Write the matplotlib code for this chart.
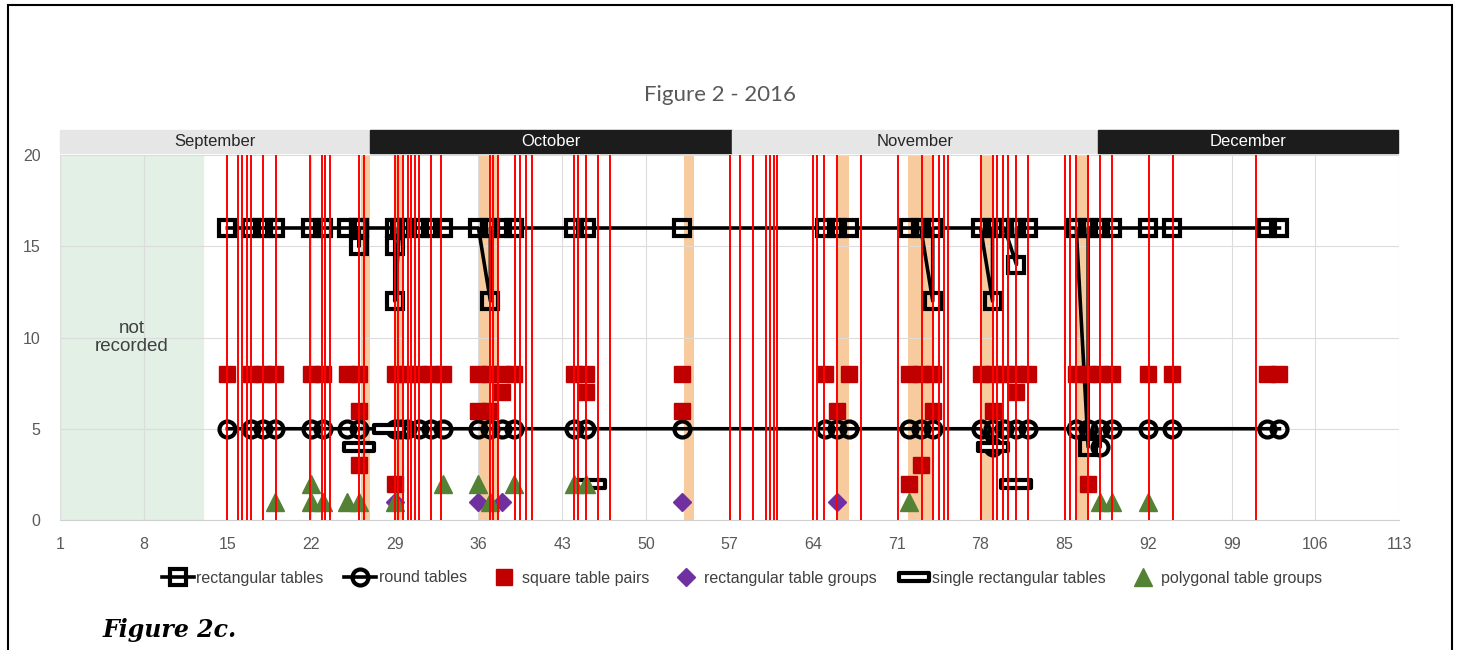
import matplotlib
matplotlib.use("Agg")
import matplotlib.pyplot as plt
from matplotlib.path import Path
from matplotlib.patches import Rectangle
from matplotlib.lines import Line2D

# x = day counted from 1 September, y = number of tables of each kind
rect_x = [15, 17, 18, 19, 22, 23, 25, 26, 26, 26, 29, 29, 29, 29.4, 30, 31, 32, 33,
          36, 37, 37, 38, 39, 44, 45, 53, 65, 66, 67, 72, 73, 74, 74,
          78, 79, 79, 80, 81, 81, 82, 86, 87, 87, 88, 89, 92, 94, 102, 103]
rect_y = [16, 16, 16, 16, 16, 16, 16, 16, 15, 16, 16, 15, 12, 16, 16, 16, 16, 16,
          16, 12, 16, 16, 16, 16, 16, 16, 16, 16, 16, 16, 16, 12, 16,
          16, 12, 16, 16, 14, 16, 16, 16, 4, 16, 16, 16, 16, 16, 16, 16]

round_x = [15, 17, 18, 19, 22, 23, 25, 26, 29, 29.5, 30, 31, 32, 33,
           36, 37, 38, 39, 44, 45, 53, 65, 66, 67, 72, 73, 74,
           78, 79, 79, 80, 81, 82, 86, 87, 88, 88, 89, 92, 94, 102, 103]
round_y = [5, 5, 5, 5, 5, 5, 5, 5, 5, 5, 5, 5, 5, 5,
           5, 5, 5, 5, 5, 5, 5, 5, 5, 5, 5, 5, 5,
           5, 4, 5, 5, 5, 5, 5, 5, 4, 5, 5, 5, 5, 5, 5]

pair_x = [15, 17, 18, 19, 22, 23, 25, 26, 26, 26, 29, 29, 30, 31, 32, 33,
          36, 37, 38, 39, 36, 37, 38, 44, 45, 45, 53, 53, 65, 67, 66,
          72, 73, 74, 72, 73, 74, 78, 79, 80, 81, 82, 79, 81,
          86, 87, 88, 89, 87, 92, 94, 102, 103]
pair_y = [8, 8, 8, 8, 8, 8, 8, 8, 6, 3, 8, 2, 8, 8, 8, 8,
          8, 8, 8, 8, 6, 6, 7, 8, 8, 7, 8, 6, 8, 8, 6,
          8, 8, 8, 2, 3, 6, 8, 8, 8, 8, 8, 6, 7,
          8, 8, 8, 8, 2, 8, 8, 8, 8]

group_x = [29, 36, 38, 53, 66]
group_y = [1, 1, 1, 1, 1]

single_x = [26, 28.5, 45.3, 79, 81]
single_y = [4, 5, 2, 4, 2]

poly_x = [19, 22, 22, 23, 25, 26, 29, 33, 36, 37, 39, 44, 45, 72, 88, 89, 92]
poly_y = [1, 2, 1, 1, 1, 1, 1, 2, 2, 1, 2, 2, 2, 1, 1, 1, 1]

# red lines
event_days = [15, 15.9, 16.2, 16.6, 17, 18, 19.1, 21.9, 22.9, 23.2, 23.6, 26, 26.45,
              29, 29.3, 29.7, 30.1, 30.4, 30.7, 31.05, 32, 32.9, 37, 37.25, 37.6,
              39.05, 39.5, 40, 40.5, 44, 44.35, 45, 46, 47, 57, 57.9, 59, 60.05,
              60.35, 60.7, 61, 64, 64.35, 64.9, 66, 68, 71.1, 73.1, 74.05, 74.5,
              74.9, 75.3, 78, 79, 79.4, 79.9, 80.3, 81, 82, 85.05, 85.5, 86, 86.95,
              88, 89, 92.1, 94.1, 101]

# orange bands
band_start = [26.2, 29.0, 36.0, 53.2, 66.1, 71.9, 78.0, 86.1]
band_end = [26.9, 29.8, 37.6, 54.0, 67.0, 74.1, 79.1, 87.1]

months = ["September", "October", "November", "December"]
month_edges = [1, 26.9, 57.2, 87.8, 112.9]
month_fill = ["#e6e6e6", "#1c1c1c", "#e6e6e6", "#1c1c1c"]
month_text = ["#262626", "white", "#262626", "white"]

not_recorded = [1, 13]
x_ticks = [1, 8, 15, 22, 29, 36, 43, 50, 57, 64, 71, 78, 85, 92, 99, 106, 113]
y_ticks = [0, 5, 10, 15, 20]

plt.rcParams['font.family'] = ['Liberation Sans', 'DejaVu Sans']

fig = plt.figure(figsize=(14.6, 6.5), dpi=100)
ax = fig.add_axes([60 / 1460, 130 / 650, 1339 / 1460, 365 / 650])
ax.set_xlim(1, 113)
ax.set_ylim(0, 20)

ax.axvspan(not_recorded[0], not_recorded[1], color="#e2f0e5", zorder=0.2)
ax.text(sum(not_recorded) / 2, 10, "not\nrecorded", ha="center", va="center",
        fontsize=13.5, color="#404040", zorder=1, linespacing=1.1)

for s, e in zip(band_start, band_end):
    ax.axvspan(s, e, color="#f8cb9f", lw=0, zorder=0.3)

ax.set_xticks(x_ticks)
ax.set_yticks(y_ticks)
ax.grid(color="#dcdcdc", lw=0.8)
ax.set_axisbelow(True)
ax.tick_params(length=0, labelsize=11.5, labelcolor="#595959")
ax.tick_params(axis="y", pad=14)
ax.tick_params(axis="x", pad=12)
for sp in ["top", "right", "left"]:
    ax.spines[sp].set_visible(False)
ax.spines["bottom"].set_color("#d0d0d0")

ax.plot(rect_x, rect_y, color="black", lw=2.6, marker="s", ms=11,
        mfc="none", mec="black", mew=3, zorder=3)
ax.plot(round_x, round_y, color="black", lw=2.6, marker="o", ms=11.5,
        mfc="none", mec="black", mew=3, zorder=3)
ax.plot(pair_x, pair_y, ls="none", marker="s", ms=11.5, color="#c00000", zorder=3)
ax.plot(group_x, group_y, ls="none", marker="D", ms=9.5, color="#7030a0", zorder=3)

bar = Path([(-1, -0.28), (1, -0.28), (1, 0.28), (-1, 0.28), (-1, -0.28)],
           [Path.MOVETO, Path.LINETO, Path.LINETO, Path.LINETO, Path.CLOSEPOLY])
ax.plot(single_x, single_y, ls="none", marker=bar, ms=21, mfc="white",
        mec="black", mew=3, zorder=3)
ax.plot(poly_x, poly_y, ls="none", marker="^", ms=13, color="#548235", zorder=3)

ax.vlines(event_days, 0, 20, color="#ff0000", lw=1.4, zorder=4)

# month strip above the plot
tr = ax.get_xaxis_transform()
for i, m in enumerate(months):
    x0, x1 = month_edges[i], month_edges[i + 1]
    ax.add_patch(Rectangle((x0, 1.005), x1 - x0, 0.063, transform=tr,
                           color=month_fill[i], clip_on=False, zorder=2))
    ax.text((x0 + x1) / 2, 1.036, m, transform=tr, ha="center", va="center",
            fontsize=12, color=month_text[i], clip_on=False)

fig.text(720 / 1460, 1 - 95 / 650, "Figure 2 - 2016", ha="center", va="center",
         fontsize=16, color="#595959", family="Lato")
fig.text(103 / 1460, 1 - 630 / 650, "Figure 2c.", ha="left", va="center",
         fontsize=17, fontweight="bold", fontstyle="italic", family="DejaVu Serif")

handles = [
    Line2D([], [], color="black", lw=2.6, marker="s", ms=11, mfc="none", mew=3),
    Line2D([], [], color="black", lw=2.6, marker="o", ms=11.5, mfc="none", mew=3),
    Line2D([], [], ls="none", marker="s", ms=11.5, color="#c00000"),
    Line2D([], [], ls="none", marker="D", ms=9.5, color="#7030a0"),
    Line2D([], [], ls="none", marker=bar, ms=21, mfc="white", mec="black", mew=3),
    Line2D([], [], ls="none", marker="^", ms=13, color="#548235"),
]
labels = ["rectangular tables", "round tables", "square table pairs",
          "rectangular table groups", "single rectangular tables", "polygonal table groups"]
fig.legend(handles, labels, loc="center", bbox_to_anchor=(742 / 1460, 1 - 578 / 650),
           ncol=6, frameon=False, fontsize=11.5, handlelength=2.0, handletextpad=0.15,
           columnspacing=1.3, labelcolor="#404040")

fig.patches.append(Rectangle((8 / 1460, -0.05), 1444 / 1460, 1 - 5 / 650 + 0.05,
                             transform=fig.transFigure, fill=False, ec="black", lw=1.5))

fig.savefig("out.png", dpi=100)
